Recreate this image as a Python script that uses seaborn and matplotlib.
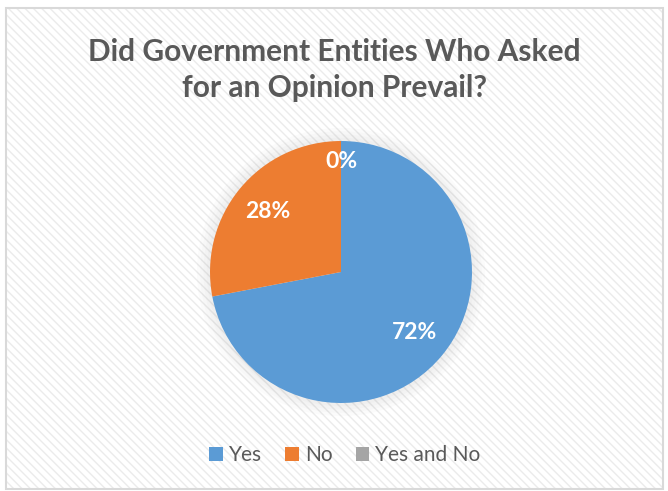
import matplotlib
matplotlib.use("Agg")
import matplotlib.pyplot as plt
import seaborn as sns
from matplotlib.patches import Rectangle

labels = ["Yes", "No", "Yes and No"]
values = [72, 28, 0]
colors = ["#5B9BD5", "#ED7D31", "#A5A5A5"]

sns.set_style("white")
plt.rcParams['font.family'] = ['Lato', 'DejaVu Sans']

W, H = 668, 491
fig = plt.figure(figsize=(W / 100, H / 100), dpi=100)
fig.patch.set_facecolor("white")

# background axes with diagonal stripes
bgax = fig.add_axes([0, 0, 1, 1], zorder=-5)
bgax.set_xlim(0, W)
bgax.set_ylim(H, 0)
bgax.axis("off")
bgax.add_patch(Rectangle((6, 8), 657, 481, facecolor="white", edgecolor="#ebebeb",
                         hatch="\\\\\\\\", linewidth=0))
bgax.add_patch(Rectangle((6, 8), 657, 481, facecolor="none", edgecolor="#d9d9d9",
                         linewidth=1.5))

# pie axes: center (341,272), radius 131 px
r = 131
cx, cy = 341, 272
ax = fig.add_axes([(cx - r) / W, (H - cy - r) / H, 2 * r / W, 2 * r / H], zorder=2)
ax.set_facecolor("none")

# soft shadow
for i in range(4):
    circ = plt.Circle((0, 0), 1.0 + 0.025 * (i + 1), color="#888888", alpha=0.03,
                      zorder=0, linewidth=0, clip_on=False)
    ax.add_patch(circ)

wedges, texts, autotexts = ax.pie(values, colors=colors, startangle=90,
                                  counterclock=False, autopct="%1.0f%%",
                                  pctdistance=0.73,
                                  wedgeprops=dict(linewidth=0),
                                  textprops=dict(color="white", fontsize=16.5,
                                                 fontweight="bold"))
x, y = autotexts[2].get_position()
autotexts[2].set_position((x * 0.84 / 0.73, y * 0.84 / 0.73))
ax.set_xlim(-1, 1)
ax.set_ylim(-1, 1)
ax.set_aspect("equal")
ax.axis("off")

fig.text(0.5, 1 - 70 / H, "Did Government Entities Who Asked\nfor an Opinion Prevail?",
         ha="center", va="center", fontsize=21.5, fontweight="bold",
         color="#595959", linespacing=1.35)

leg = fig.legend(wedges, labels, loc="center", bbox_to_anchor=(345 / W, 1 - 455 / H),
                 ncol=3, frameon=False, fontsize=15, handlelength=0.65,
                 handleheight=0.65, handletextpad=0.3, columnspacing=1.1)
for t in leg.get_texts():
    t.set_color("#595959")

fig.savefig("out.png", dpi=100)
